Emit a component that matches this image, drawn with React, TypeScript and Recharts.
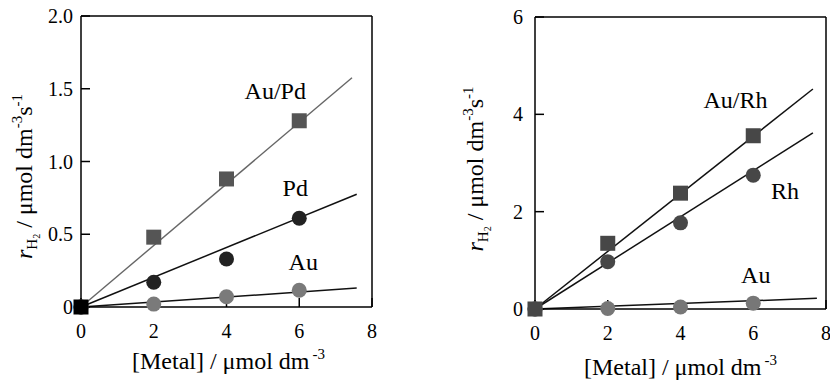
import React from 'react';
import { ComposedChart, Scatter, Line, XAxis, YAxis, ReferenceDot, Cell } from 'recharts';

const FONT = 'Liberation Serif, DejaVu Serif, serif';

// shared x values ([Metal] / umol dm-3)
const metalX = [0, 2, 4, 6];
const xTicks = [0, 2, 4, 6, 8];

// left panel
const leftAuPd = [0, 0.48, 0.88, 1.28];
const leftPd = [0, 0.17, 0.33, 0.61];
const leftAu = [0, 0.02, 0.07, 0.115];
const leftFitAuPdX = [0, 7.45];
const leftFitAuPdY = [0, 1.575];
const leftFitPdX = [0, 7.58];
const leftFitPdY = [0, 0.775];
const leftFitAuX = [0, 7.58];
const leftFitAuY = [0, 0.13];
const leftYTicks = [0, 0.5, 1.0, 1.5, 2.0];
const leftNotes = [
  { text: 'Au/Pd', x: 5.34, y: 1.49 },
  { text: 'Pd', x: 5.89, y: 0.82 },
  { text: 'Au', x: 6.11, y: 0.314 },
];

// right panel
const rightAuRh = [0, 1.35, 2.38, 3.56];
const rightRh = [0, 0.97, 1.77, 2.75];
const rightAu = [0, 0.01, 0.04, 0.12];
const rightFitAuRhX = [0, 7.64];
const rightFitAuRhY = [0, 4.52];
const rightFitRhX = [0, 7.64];
const rightFitRhY = [0, 3.62];
const rightFitAuX = [0, 7.75];
const rightFitAuY = [0, 0.22];
const rightYTicks = [0, 2, 4, 6];
const rightNotes = [
  { text: 'Au/Rh', x: 5.51, y: 4.3 },
  { text: 'Rh', x: 6.87, y: 2.43 },
  { text: 'Au', x: 6.07, y: 0.7 },
];

const pts = (xs: number[], ys: number[]) => xs.map((x, i) => ({ x, y: ys[i] }));

const Square = (props: any) => {
  const { cx, cy, fill } = props;
  if (cx == null || cy == null) return null;
  return <rect x={cx - 7.5} y={cy - 7.5} width={15} height={15} fill={fill} />;
};
const Dot = (props: any) => {
  const { cx, cy, fill } = props;
  if (cx == null || cy == null) return null;
  return <circle cx={cx} cy={cy} r={7.5} fill={fill} />;
};

const serifStyle = { fontFamily: FONT };

function YTitle(props: any) {
  const vb = props.viewBox;
  if (!vb) return null;
  const x = vb.x + props.bx;
  const y = vb.y + vb.height / 2 + props.dyc;
  return (
    <text x={x} y={y} transform={`rotate(-90 ${x} ${y})`} textAnchor="middle" style={serifStyle} fontSize={24} fill="#000">
      <tspan fontStyle="italic">r</tspan>
      <tspan fontSize={15} dy={5}>H</tspan>
      <tspan fontSize={10} dy={3}>2</tspan>
      <tspan dy={-8}>{' / μmol dm'}</tspan>
      <tspan fontSize={15} dy={-10}>-3</tspan>
      <tspan dy={10}>s</tspan>
      <tspan fontSize={15} dy={-10}>-1</tspan>
    </text>
  );
}

function XTitle(props: any) {
  const vb = props.viewBox;
  if (!vb) return null;
  const x = vb.x + vb.width / 2 + props.dxc;
  const y = vb.y + props.by;
  return (
    <text x={x} y={y} textAnchor="middle" style={serifStyle} fontSize={24} fill="#000">
      <tspan>{'[Metal] / μmol dm'}</tspan>
      <tspan fontSize={15} dx={3} dy={-10}>{'-3'}</tspan>
    </text>
  );
}

const axisStroke = { stroke: '#000', strokeWidth: 1.5 };
const tickStyle = { fill: '#000', fontSize: 20, fontFamily: FONT, style: serifStyle };
const fmtLeft = (v: number) => (v === 0 ? '0' : v.toFixed(1));

function Panel(p: any) {
  return (
    <ComposedChart width={p.width} height={383} margin={p.margin} style={serifStyle}>
      <XAxis
        xAxisId="b"
        type="number"
        dataKey="x"
        domain={[0, 8]}
        ticks={xTicks}
        height={30}
        axisLine={axisStroke}
        tickLine={axisStroke}
        tickSize={-9}
        tickMargin={26}
        tick={tickStyle}
        interval={0}
        label={<XTitle by={p.xLabelBy} dxc={p.xLabelDx} />}
      />
      <XAxis
        xAxisId="t"
        orientation="top"
        type="number"
        domain={[0, 8]}
        ticks={xTicks}
        height={1}
        axisLine={axisStroke}
        tickLine={false}
        tick={false}
      />
      <YAxis
        yAxisId="l"
        type="number"
        dataKey="y"
        domain={p.yDomain}
        ticks={p.yTicks}
        width={p.yWidth}
        axisLine={axisStroke}
        tickLine={axisStroke}
        tickSize={-9}
        tickMargin={p.yTickMargin}
        tick={tickStyle}
        interval={0}
        tickFormatter={p.fmt}
        label={<YTitle bx={p.yLabelBx} dyc={p.yLabelDy} />}
      />
      <YAxis
        yAxisId="r"
        orientation="right"
        type="number"
        domain={p.yDomain}
        ticks={p.yTicks}
        width={1}
        axisLine={axisStroke}
        tickLine={axisStroke}
        tickSize={-9}
        tick={false}
        interval={0}
      />
      {p.fits.map((f: any, i: number) => (
        <Line
          key={'f' + i}
          xAxisId="b"
          yAxisId="l"
          data={f.data}
          dataKey="y"
          type="linear"
          stroke={f.color}
          strokeWidth={f.width}
          dot={false}
          activeDot={false}
          isAnimationActive={false}
        />
      ))}
      {p.series.map((s: any, i: number) => (
        <Scatter
          key={'s' + i}
          xAxisId="b"
          yAxisId="l"
          data={s.data}
          dataKey="y"
          fill={s.color}
          shape={s.shape === 'square' ? Square : Dot}
          isAnimationActive={false}
        >
          {s.data.map((_: any, j: number) => (
            <Cell key={j} fill={j === 0 && s.originColor ? s.originColor : s.color} />
          ))}
        </Scatter>
      ))}
      {p.notes.map((n: any, i: number) => (
        <ReferenceDot
          key={'n' + i}
          xAxisId="b"
          yAxisId="l"
          x={n.x}
          y={n.y}
          r={0}
          fill="none"
          stroke="none"
          label={{ value: n.text, position: 'center', fontSize: 24, fill: '#000', fontFamily: FONT, style: serifStyle }}
        />
      ))}
    </ComposedChart>
  );
}

export default function App() {
  const leftFits = [
    { data: pts(leftFitAuPdX, leftFitAuPdY), color: '#666', width: 1.4 },
    { data: pts(leftFitPdX, leftFitPdY), color: '#111', width: 1.5 },
    { data: pts(leftFitAuX, leftFitAuY), color: '#111', width: 1.5 },
  ];
  const leftSeries = [
    { data: pts(metalX, leftAu), color: '#7a7a7a', shape: 'circle' },
    { data: pts(metalX, leftPd), color: '#222', shape: 'circle' },
    { data: pts(metalX, leftAuPd), color: '#555', shape: 'square', originColor: '#000' },
  ];
  const rightFits = [
    { data: pts(rightFitAuRhX, rightFitAuRhY), color: '#111', width: 1.5 },
    { data: pts(rightFitRhX, rightFitRhY), color: '#111', width: 1.5 },
    { data: pts(rightFitAuX, rightFitAuY), color: '#111', width: 1.5 },
  ];
  const rightSeries = [
    { data: pts(metalX, rightAu), color: '#777', shape: 'circle' },
    { data: pts(metalX, rightRh), color: '#474747', shape: 'circle' },
    { data: pts(metalX, rightAuRh), color: '#474747', shape: 'square' },
  ];
  return (
    <div style={{ position: 'absolute', left: 0, top: 0, width: 830, height: 383, background: '#fff', fontFamily: FONT, overflow: 'hidden' }}>
      <div style={{ position: 'absolute', left: 0, top: 0 }}>
        <Panel
          width={410}
          margin={{ top: 15, right: 37, bottom: 46, left: 0 }}
          yDomain={[0, 2]}
          yTicks={leftYTicks}
          yWidth={81}
          yTickMargin={17}
          fmt={fmtLeft}
          yLabelBx={32}
          yLabelDy={15}
          xLabelBy={62}
          xLabelDx={2}
          fits={leftFits}
          series={leftSeries}
          notes={leftNotes}
        />
      </div>
      <div style={{ position: 'absolute', left: 410, top: 0 }}>
        <Panel
          width={440}
          margin={{ top: 16, right: 23, bottom: 44, left: 0 }}
          yDomain={[0, 6]}
          yTicks={rightYTicks}
          yWidth={125}
          yTickMargin={21}
          fmt={(v: number) => String(v)}
          yLabelBx={73}
          yLabelDy={6}
          xLabelBy={66}
          xLabelDx={0}
          fits={rightFits}
          series={rightSeries}
          notes={rightNotes}
        />
      </div>
    </div>
  );
}
